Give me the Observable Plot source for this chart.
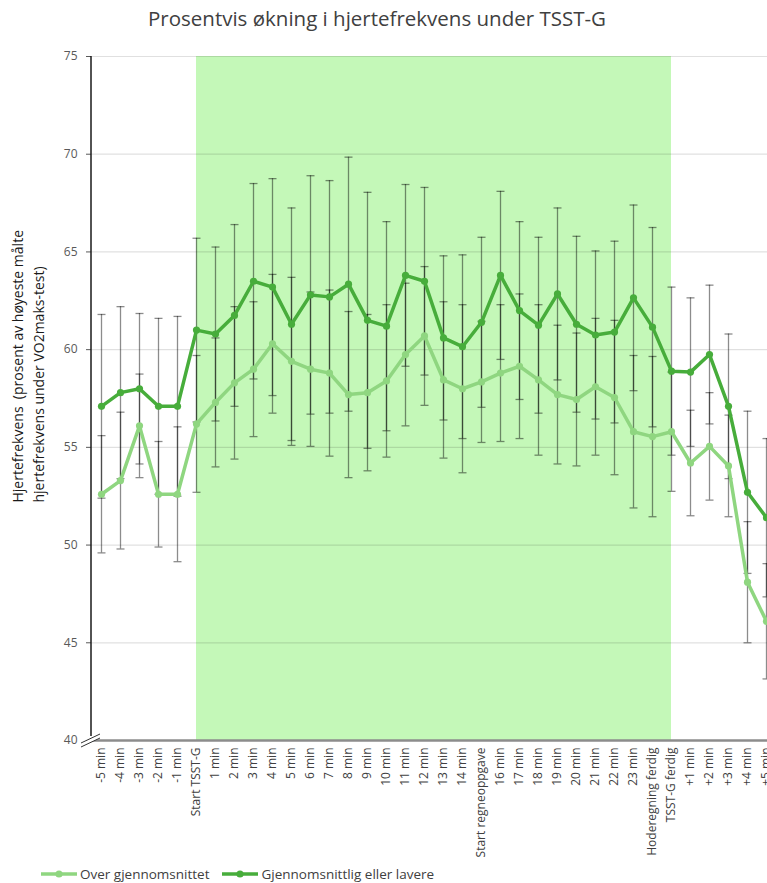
<!DOCTYPE html>
<html><head><meta charset="utf-8">
<script src="https://cdn.jsdelivr.net/npm/d3@7"></script>
<script src="https://cdn.jsdelivr.net/npm/@observablehq/plot@0.6"></script>
<style>
html,body{margin:0;padding:0;background:#fff;}
body{width:767px;height:883px;overflow:hidden;position:relative;font-family:"Open Sans",sans-serif;}
#chart{position:absolute;top:0;left:0;width:780px;}
#title{position:absolute;top:4px;left:0;width:754px;text-align:center;font-size:20.5px;color:#404040;}
#legend{position:absolute;top:865px;left:41px;font-size:13.5px;color:#404040;display:flex;align-items:center;white-space:nowrap;}
#legend .item{display:flex;align-items:center;margin-right:13px;}
#legend svg{margin-right:3px;}
</style></head><body>
<div id="chart"></div>
<div id="title">Prosentvis økning i hjertefrekvens under TSST-G</div>
<div id="legend"></div>
<script>
const categories = ["-5 min","-4 min","-3 min","-2 min","-1 min","Start TSST-G","1 min","2 min","3 min","4 min","5 min","6 min","7 min","8 min","9 min","10 min","11 min","12 min","13 min","14 min","Start regneoppgave","16 min","17 min","18 min","19 min","20 min","21 min","22 min","23 min","Hoderegning ferdig","TSST-G ferdig","+1 min","+2 min","+3 min","+4 min","+5 min"];

const lightName = "Over gjennomsnittet";
const darkName = "Gjennomsnittlig eller lavere";

const lightMean = [52.6,53.3,56.1,52.6,52.6,56.2,57.3,58.3,59.0,60.3,59.4,59.0,58.8,57.7,57.8,58.4,59.75,60.7,58.45,58.0,58.35,58.8,59.15,58.45,57.7,57.45,58.1,57.55,55.8,55.55,55.8,54.2,55.05,54.05,48.1,46.1];
const lightSD   = [3.0,3.5,2.65,2.7,3.45,3.5,3.3,3.9,3.45,3.55,4.3,3.95,4.25,4.25,4.0,3.9,3.65,3.55,4.0,4.3,3.1,3.5,3.7,3.85,3.55,3.4,3.5,3.95,3.9,4.1,3.05,2.7,2.75,2.6,3.1,2.95];
const darkMean  = [57.1,57.8,58.0,57.1,57.1,61.0,60.8,61.75,63.5,63.2,61.3,62.8,62.7,63.35,61.5,61.2,63.8,63.5,60.6,60.15,61.4,63.8,62.0,61.25,62.85,61.3,60.75,60.9,62.65,61.15,58.9,58.85,59.75,57.1,52.7,51.4];
const darkSD    = [4.7,4.4,3.85,4.5,4.6,4.7,4.45,4.65,5.0,5.55,5.95,6.1,5.95,6.5,6.55,5.35,4.65,4.8,4.2,4.7,4.35,4.3,4.55,4.5,4.4,4.5,4.3,4.65,4.75,5.1,4.3,3.8,3.55,3.7,4.15,4.05];

const yTicks = [40,45,50,55,60,65,70,75];
const shadeStart = "Start TSST-G";
const shadeEnd = "TSST-G ferdig";
const yTitle = "Hjertefrekvens\u00a0 (prosent av høyeste målte\nhjertefrekvens under VO2maks-test)";

const seriesNames = [lightName, darkName];
const seriesColors = ["#8fd680", "#47ad3b"];

const rows = categories.flatMap((c, i) => [
  {cat: c, series: lightName, mean: lightMean[i], sd: lightSD[i]},
  {cat: c, series: darkName, mean: darkMean[i], sd: darkSD[i]}
]);

// horizontal cap symbol for error bars
const capSymbol = {
  draw(context, size) {
    const w = Math.sqrt(size / Math.PI);
    context.moveTo(-w, 0);
    context.lineTo(w, 0);
  }
};

function yAxisLine(index, scales, values, dims) {
  const g = d3.create("svg:g");
  const x0 = dims.marginLeft;
  const yTop = scales.y(yTicks[yTicks.length - 1]);
  const yBot = scales.y(yTicks[0]);
  g.append("line").attr("x1", x0).attr("x2", x0).attr("y1", yTop).attr("y2", yBot - 4)
    .attr("stroke", "#1a1a1a").attr("stroke-width", 1.5);
  g.append("polygon")
    .attr("points", `${x0-10},${yBot+3} ${x0+9},${yBot-6} ${x0+9},${yBot-2} ${x0-10},${yBot+7}`)
    .attr("fill", "#fff");
  g.append("line").attr("x1", x0-10).attr("y1", yBot+3).attr("x2", x0+9).attr("y2", yBot-6)
    .attr("stroke", "#333").attr("stroke-width", 1);
  g.append("line").attr("x1", x0-10).attr("y1", yBot+7).attr("x2", x0+9).attr("y2", yBot-2)
    .attr("stroke", "#333").attr("stroke-width", 1);
  return g.node();
}

const errStyle = {stroke: "#000", strokeOpacity: 0.45, strokeWidth: 1.3};

const plot = Plot.plot({
  width: 780,
  height: 850,
  marginLeft: 91,
  marginRight: 4,
  marginTop: 56,
  marginBottom: 110,
  style: {fontFamily: "'Open Sans', sans-serif", maxWidth: "none", overflow: "visible"},
  x: {type: "point", domain: categories, padding: 0.5, label: null},
  y: {domain: [40, 75], label: null},
  color: {domain: seriesNames, range: seriesColors},
  marks: [
    Plot.rect([{a: shadeStart, b: shadeEnd}], {x1: "a", x2: "b", y1: yTicks[0], y2: yTicks[yTicks.length-1], fill: "#c4f8b8"}),
    Plot.ruleY(yTicks.slice(1), {stroke: "#000", strokeOpacity: 0.12, strokeWidth: 1.2}),
    Plot.ruleY([yTicks[0]], {stroke: "#8c8c8c", strokeWidth: 2.5}),
    Plot.axisY({ticks: yTicks, tickSize: 5, tickPadding: 9, fontSize: 12, color: "#595959", label: null}),
    Plot.axisX({tickRotate: -90, tickSize: 0, tickPadding: 7, fontSize: 12, color: "#404040", label: null}),
    Plot.ruleX(rows, {x: "cat", y1: d => d.mean - d.sd, y2: d => d.mean + d.sd, ...errStyle}),
    Plot.dot(rows, {x: "cat", y: d => d.mean - d.sd, symbol: capSymbol, r: 4, fill: "none", ...errStyle}),
    Plot.dot(rows, {x: "cat", y: d => d.mean + d.sd, symbol: capSymbol, r: 4, fill: "none", ...errStyle}),
    Plot.line(rows, {x: "cat", y: "mean", z: "series", stroke: "series", strokeWidth: 3.5}),
    Plot.dot(rows, {x: "cat", y: "mean", fill: "series", r: 3.6}),
    yAxisLine,
    Plot.text([yTitle], {text: d => d, frameAnchor: "left", dx: -65, dy: 104, rotate: -90, textAnchor: "start", lineAnchor: "middle", lineHeight: 1.5, fontSize: 14, fill: "#1a1a1a"})
  ]
});
document.getElementById("chart").appendChild(plot);

const legend = d3.select("#legend");
seriesNames.forEach((name, i) => {
  const item = legend.append("div").attr("class", "item");
  const s = item.append("svg").attr("width", 36).attr("height", 10);
  s.append("line").attr("x1", 0).attr("x2", 36).attr("y1", 5).attr("y2", 5).attr("stroke", seriesColors[i]).attr("stroke-width", 3.5);
  s.append("circle").attr("cx", 18).attr("cy", 5).attr("r", 3.6).attr("fill", seriesColors[i]);
  item.append("span").text(name);
});
</script>
</body></html>
